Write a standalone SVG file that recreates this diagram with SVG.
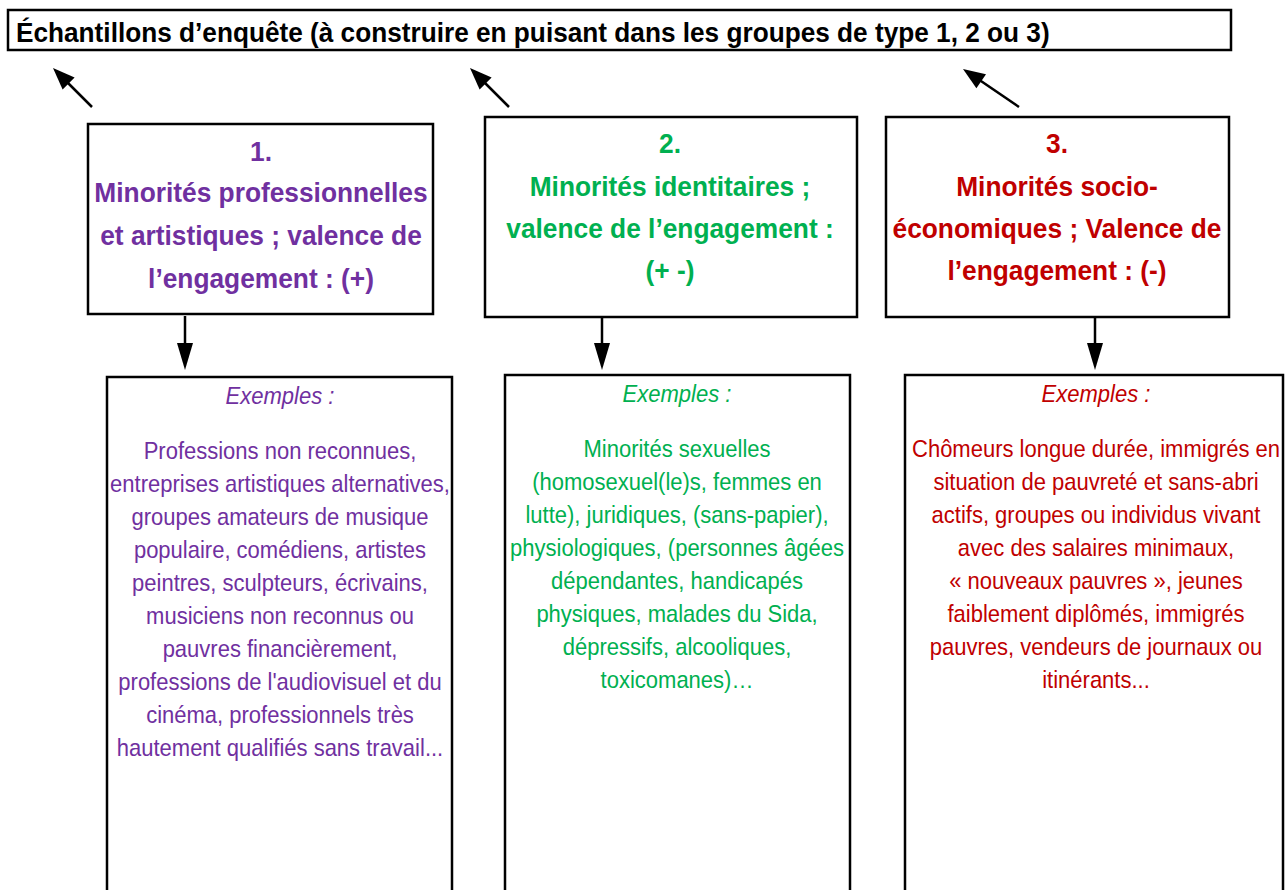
<svg xmlns="http://www.w3.org/2000/svg" width="1288" height="890" viewBox="0 0 1288 890">
<style>
.box{fill:#fff;stroke:#000;stroke-width:2.5}
.t{font-family:"Liberation Sans Narrow","Arial Narrow","Liberation Sans",sans-serif;text-anchor:middle}
.h{font-size:28px;font-weight:bold}
.b{font-size:24px}
.ex{font-size:24px;font-style:italic}
.p{fill:#7030A0}.g{fill:#00B050}.r{fill:#C00000}
.c{stroke:#000;stroke-width:2.5;fill:none}
.hd{fill:#000}
</style>
<g id="title">
<rect class="box" x="8" y="10" width="1223" height="40"/>
<g transform="translate(16,0) scale(0.936,1)">
<text class="t h" x="0" y="42" style="text-anchor:start" fill="#000">Échantillons d’enquête (à construire en puisant dans les groupes de type 1, 2 ou 3)</text>
</g>
</g>
<g id="n1">
<rect class="box" x="88" y="124" width="345" height="190"/>
<g transform="translate(261,0) scale(0.94,1)">
<text class="t h p"><tspan x="0" y="161">1.</tspan><tspan x="0" y="202">Minorités professionnelles</tspan><tspan x="0" y="245">et artistiques ; valence de</tspan><tspan x="0" y="288">l’engagement : (+)</tspan></text>
</g>
</g>
<g id="n2">
<rect class="box" x="485" y="117" width="372" height="200"/>
<g transform="translate(670,0) scale(0.94,1)">
<text class="t h g"><tspan x="0" y="153">2.</tspan><tspan x="0" y="196">Minorités identitaires ;</tspan><tspan x="0" y="238">valence de l’engagement :</tspan><tspan x="0" y="280">(+ -)</tspan></text>
</g>
</g>
<g id="n3">
<rect class="box" x="886" y="117" width="343" height="200"/>
<g transform="translate(1057,0) scale(0.94,1)">
<text class="t h r"><tspan x="0" y="153">3.</tspan><tspan x="0" y="196">Minorités socio-</tspan><tspan x="0" y="238">économiques ; Valence de</tspan><tspan x="0" y="280">l’engagement : (-)</tspan></text>
</g>
</g>
<g id="e1">
<rect class="box" x="107" y="377" width="345" height="520"/>
<g transform="translate(280,0) scale(0.9167,1)">
<text class="t ex p" x="0" y="404">Exemples :</text>
<text class="t b p"><tspan x="0" y="459">Professions non reconnues,</tspan><tspan x="0" y="492">entreprises artistiques alternatives,</tspan><tspan x="0" y="525">groupes amateurs de musique</tspan><tspan x="0" y="558">populaire, comédiens, artistes</tspan><tspan x="0" y="591">peintres, sculpteurs, écrivains,</tspan><tspan x="0" y="624">musiciens non reconnus ou</tspan><tspan x="0" y="657">pauvres financièrement,</tspan><tspan x="0" y="690">professions de l'audiovisuel et du</tspan><tspan x="0" y="723">cinéma, professionnels très</tspan><tspan x="0" y="756">hautement qualifiés sans travail...</tspan></text>
</g>
</g>
<g id="e2">
<rect class="box" x="505" y="375" width="345" height="520"/>
<g transform="translate(677,0) scale(0.9167,1)">
<text class="t ex g" x="0" y="402">Exemples :</text>
<text class="t b g"><tspan x="0" y="457">Minorités sexuelles</tspan><tspan x="0" y="490">(homosexuel(le)s, femmes en</tspan><tspan x="0" y="523">lutte), juridiques, (sans-papier),</tspan><tspan x="0" y="556">physiologiques, (personnes âgées</tspan><tspan x="0" y="589">dépendantes, handicapés</tspan><tspan x="0" y="622">physiques, malades du Sida,</tspan><tspan x="0" y="655">dépressifs, alcooliques,</tspan><tspan x="0" y="688">toxicomanes)…</tspan></text>
</g>
</g>
<g id="e3">
<rect class="box" x="905" y="375" width="378" height="520"/>
<g transform="translate(1096,0) scale(0.9167,1)">
<text class="t ex r" x="0" y="402">Exemples :</text>
<text class="t b r"><tspan x="0" y="457">Chômeurs longue durée, immigrés en</tspan><tspan x="0" y="490">situation de pauvreté et sans-abri</tspan><tspan x="0" y="523">actifs, groupes ou individus vivant</tspan><tspan x="0" y="556">avec des salaires minimaux,</tspan><tspan x="0" y="589">« nouveaux pauvres », jeunes</tspan><tspan x="0" y="622">faiblement diplômés, immigrés</tspan><tspan x="0" y="655">pauvres, vendeurs de journaux ou</tspan><tspan x="0" y="688">itinérants...</tspan></text>
</g>
</g>
<g id="connectors">
<line class="c" x1="92" y1="107" x2="65" y2="80"/>
<path class="hd" d="M53,68 L74.6,77.6 L62.6,89.6 z"/>
<line class="c" x1="509" y1="107" x2="482" y2="80"/>
<path class="hd" d="M470,68 L491.6,77.6 L479.6,89.6 z"/>
<line class="c" x1="1019" y1="107" x2="978" y2="79"/>
<path class="hd" d="M963,69 L986,74.3 L976.4,88.3 z"/>
<line class="c" x1="185" y1="316" x2="185" y2="346"/>
<path class="hd" d="M177,343 L193,343 L185,370 z"/>
<line class="c" x1="602" y1="318" x2="602" y2="346"/>
<path class="hd" d="M594,343 L610,343 L602,370 z"/>
<line class="c" x1="1095" y1="318" x2="1095" y2="346"/>
<path class="hd" d="M1087,343 L1103,343 L1095,370 z"/>
</g>
</svg>
